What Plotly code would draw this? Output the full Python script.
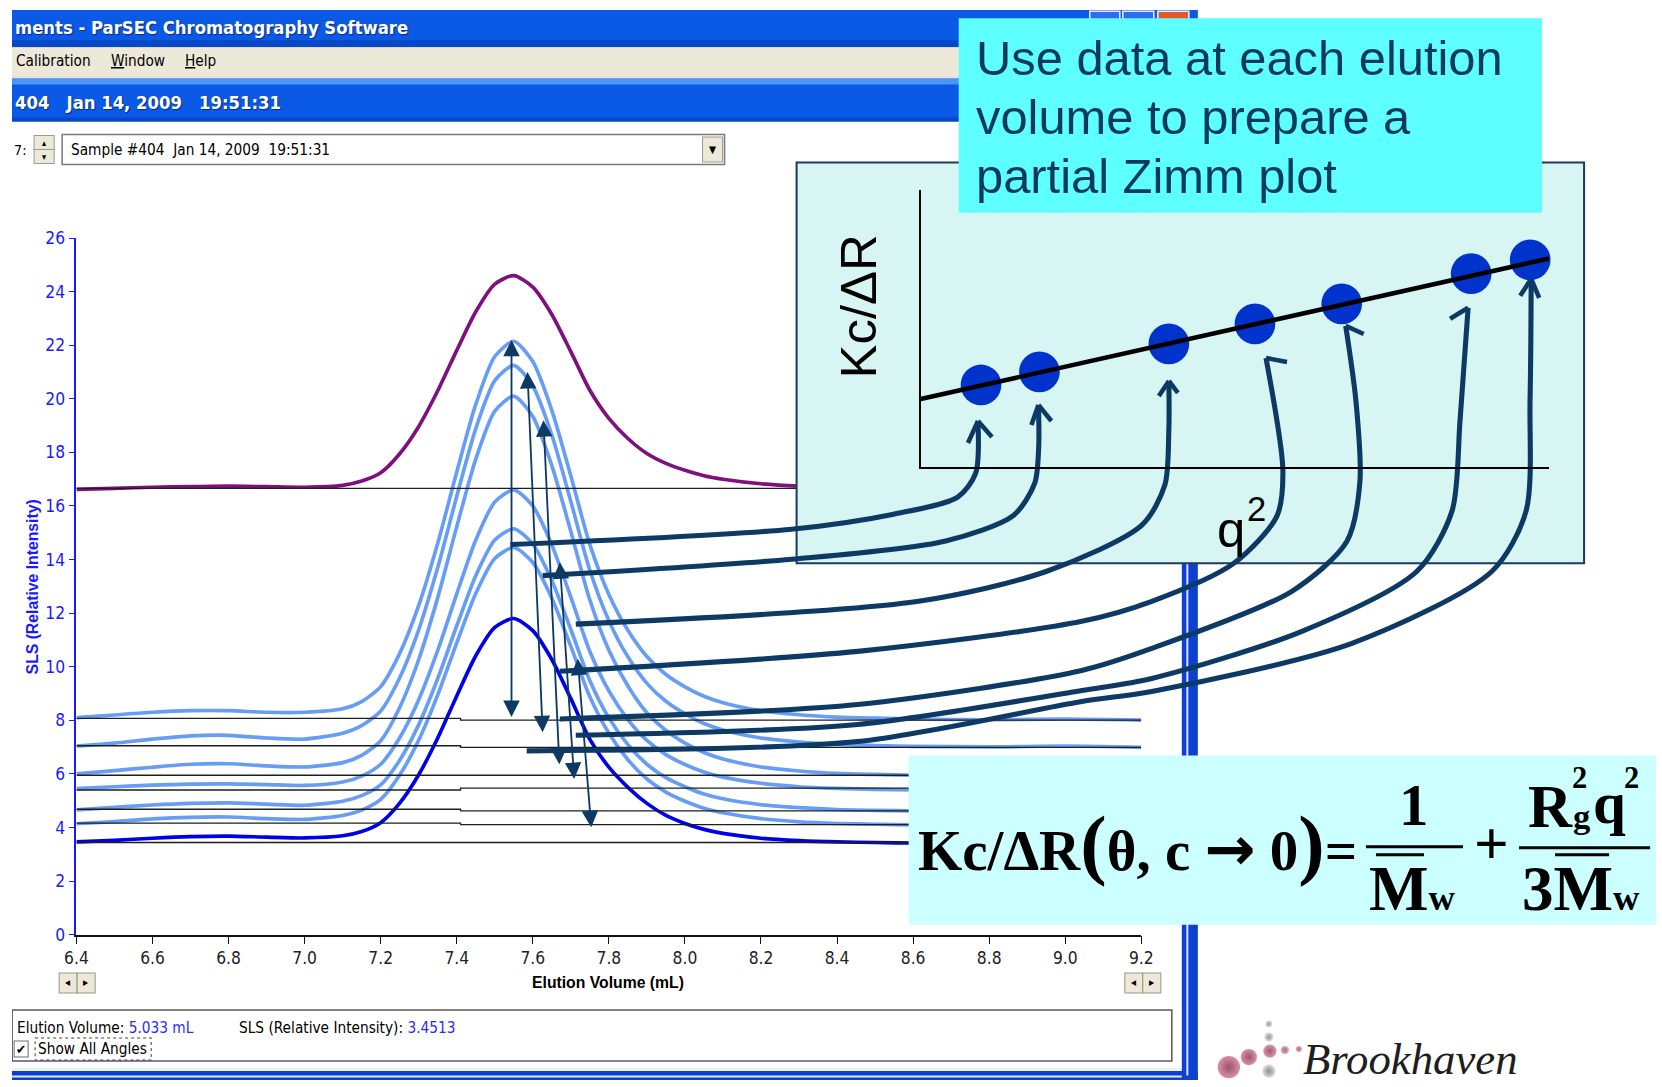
import plotly.graph_objects as go

# Layout is written in target-pixel coordinates (1662 x 1087) and mapped onto the
# figure through a small affine correction so that the page body margin and the
# viewport scaling line the figure up with the window.
TW, TH = 1662, 1087
SX, SY = 0.985, 0.980
OX, OY = 10.9, 9.7
WF, HF = 1668, 1090
Z = 1 / 0.983                       # size factor for fonts, widths and markers

SANS = "Liberation Sans, Arial, sans-serif"
NARROW = "Liberation Sans Narrow, DejaVu Sans Condensed, Arial Narrow, sans-serif"
COND = "DejaVu Sans Condensed, DejaVu Sans, sans-serif"
SERIF = "Liberation Serif, Times New Roman, serif"

# ---------------- SLS chromatogram, one trace per detector angle ----------------
elution_ml = [6.4, 6.5, 6.6, 6.7, 6.8, 6.9, 7.0, 7.1, 7.15, 7.2, 7.25, 7.3, 7.35,
              7.4, 7.45, 7.5, 7.55, 7.6, 7.65, 7.7, 7.75, 7.8, 7.85, 7.9, 7.95,
              8.0, 8.05, 8.1, 8.2, 8.3, 8.4, 8.5, 8.6, 8.8, 9.0, 9.2]

sls_purple = [16.62, 16.66, 16.70, 16.72, 16.74, 16.72, 16.70,
              16.77, 16.93, 17.24, 17.95, 18.97, 20.30, 21.81, 23.25, 24.28, 24.60,
              24.17, 23.15, 21.76, 20.32, 19.27, 18.52, 17.96, 17.59, 17.33, 17.13,
              17.00, 16.83, 16.74, 16.70, 16.68, 16.66, 16.66, 16.66, 16.66]
sls_angle1 = [8.10, 8.20, 8.30, 8.36, 8.36, 8.30, 8.30,
              8.43, 8.70, 9.26, 10.50, 12.29, 14.61, 17.27, 19.79, 21.58, 22.15,
              21.39, 19.57, 17.12, 14.56, 12.70, 11.36, 10.38, 9.71, 9.25, 8.90,
              8.66, 8.36, 8.21, 8.12, 8.08, 8.05, 8.02, 8.05, 8.01]
sls_angle2 = [7.04, 7.15, 7.30, 7.42, 7.44, 7.34, 7.30,
              7.52, 7.80, 8.35, 9.59, 11.38, 13.70, 16.36, 18.89, 20.68, 21.25,
              20.48, 18.65, 16.17, 13.60, 11.72, 10.37, 9.38, 8.71, 8.24, 7.88,
              7.64, 7.34, 7.19, 7.10, 7.06, 7.03, 7.01, 7.04, 6.99]
sls_angle3 = [6.00, 6.12, 6.25, 6.36, 6.38, 6.30, 6.26,
              6.42, 6.69, 7.24, 8.48, 10.27, 12.58, 15.23, 17.75, 19.54, 20.10,
              19.34, 17.51, 15.05, 12.49, 10.62, 9.28, 8.28, 7.62, 7.15, 6.80,
              6.56, 6.26, 6.11, 6.02, 5.98, 5.95, 5.95, 5.95, 5.95]
sls_angle4 = [5.45, 5.52, 5.58, 5.62, 5.63, 5.60, 5.57,
              5.70, 5.92, 6.36, 7.35, 8.77, 10.61, 12.72, 14.73, 16.15, 16.60,
              16.00, 14.55, 12.60, 10.57, 9.10, 8.03, 7.25, 6.72, 6.35, 6.07,
              5.88, 5.65, 5.52, 5.46, 5.42, 5.40, 5.40, 5.40, 5.40]
sls_angle5 = [4.66, 4.75, 4.84, 4.90, 4.92, 4.87, 4.83,
              4.98, 5.19, 5.59, 6.51, 7.84, 9.56, 11.53, 13.40, 14.73, 15.15,
              14.58, 13.22, 11.39, 9.48, 8.09, 7.09, 6.36, 5.86, 5.52, 5.25,
              5.07, 4.85, 4.74, 4.67, 4.64, 4.62, 4.62, 4.62, 4.62]
sls_angle6 = [4.14, 4.22, 4.32, 4.38, 4.39, 4.33, 4.30,
              4.45, 4.65, 5.05, 5.96, 7.26, 8.95, 10.89, 12.73, 14.04, 14.45,
              13.89, 12.56, 10.76, 8.88, 7.52, 6.53, 5.81, 5.32, 4.98, 4.72,
              4.55, 4.33, 4.21, 4.15, 4.12, 4.10, 4.10, 4.10, 4.10]
sls_dark = [3.46, 3.52, 3.60, 3.66, 3.68, 3.64, 3.61,
            3.69, 3.85, 4.18, 4.91, 5.97, 7.34, 8.91, 10.41, 11.47, 11.80,
            11.35, 10.27, 8.81, 7.29, 6.25, 5.50, 4.90, 4.45, 4.15, 3.93,
            3.78, 3.60, 3.51, 3.46, 3.44, 3.42, 3.42, 3.42, 3.42]

# detector baselines (left / right of the baseline break)
baseline_left = [16.66, 8.07, 7.05, 5.95, 5.40, 4.68, 4.16, 3.44]
baseline_right = [16.66, 8.01, 6.99, 5.95, 5.47, 4.62, 4.11, 3.44]
baseline_break_ml = 7.41

x_ticks = [6.4, 6.6, 6.8, 7.0, 7.2, 7.4, 7.6, 7.8, 8.0, 8.2, 8.4, 8.6, 8.8, 9.0, 9.2]
x_tick_text = ["6.4", "6.6", "6.8", "7.0", "7.2", "7.4", "7.6", "7.8", "8.0",
               "8.2", "8.4", "8.6", "8.8", "9.0", "9.2"]
y_ticks = [0, 2, 4, 6, 8, 10, 12, 14, 16, 18, 20, 22, 24, 26]

# peak-to-baseline markers (double-headed)
arrow_ev_top = [7.544, 7.586, 7.628, 7.671, 7.718]
arrow_sls_top = [22.2, 21.0, 19.2, 13.9, 10.3]
arrow_ev_bot = [7.544, 7.626, 7.670, 7.709, 7.754]
arrow_sls_bot = [8.07, 7.5, 6.3, 5.75, 3.95]

# points picked off the chromatogram and carried to the Zimm plot
conn_ev = [7.541, 7.626, 7.713, 7.671, 7.671, 7.713, 7.584]
conn_sls = [14.56, 13.40, 11.59, 9.83, 8.05, 7.44, 6.86]

# ---------------- partial Zimm plot ----------------
zimm_q2 = [0.096, 0.189, 0.395, 0.532, 0.670, 0.876, 0.970]
zimm_kc = [0.296, 0.343, 0.444, 0.516, 0.588, 0.697, 0.747]
fit_q2 = [0.0, 1.0]
fit_kc = [0.245, 0.752]

# ---------------- geometry (target pixels) ----------------
PL, PR, PB, PT = 75.3, 1139.5, 932.8, 237.4        # chromatogram plot box
ZL, ZR, ZB, ZT = 919.0, 1547.0, 466.0, 189.0       # Zimm plot box


def fx(p):
    return (p - OX) / SX


def fy(p):
    return (p - OY) / SY


def xdom(a, b):
    return [fx(a) / WF, fx(b) / WF]


def ydom(bottom, top):
    return [1 - fy(bottom) / HF, 1 - fy(top) / HF]


def px(ev):
    return PL + (ev - 6.4) / (9.2 - 6.4) * (PR - PL)


def py(v):
    return PB - v / 26.0 * (PB - PT)


def zx(q):
    return ZL + q * (ZR - ZL)


def zy(k):
    return ZB - k * (ZB - ZT)


NAVY = "#0D3A64"
LIGHT = "#679DF4"

fig = go.Figure()

# chromatogram curves
for vals in [sls_angle1, sls_angle2, sls_angle3, sls_angle4, sls_angle5, sls_angle6]:
    fig.add_trace(go.Scatter(x=elution_ml, y=vals, mode="lines",
                             line=dict(color=LIGHT, width=3.6 * Z, shape="spline", smoothing=0.7),
                             hoverinfo="skip", showlegend=False))
fig.add_trace(go.Scatter(x=elution_ml, y=sls_dark, mode="lines",
                         line=dict(color="#0000E6", width=3.6 * Z, shape="spline", smoothing=0.7),
                         hoverinfo="skip", showlegend=False))
fig.add_trace(go.Scatter(x=elution_ml, y=sls_purple, mode="lines",
                         line=dict(color="#80107E", width=3.6 * Z, shape="spline", smoothing=0.7),
                         hoverinfo="skip", showlegend=False))
for bl, br in zip(baseline_left, baseline_right):
    fig.add_trace(go.Scatter(x=[6.4, baseline_break_ml, baseline_break_ml, 9.2],
                             y=[bl, bl, br, br], mode="lines",
                             line=dict(color="#1E1E1E", width=1.3 * Z),
                             hoverinfo="skip", showlegend=False))

# ---------------- connectors from the chromatogram to the Zimm points ----------------
routes = [
    [(790, 528), (892, 513), (956, 496), (974, 472)],
    [(790, 558), (943, 540), (1012, 514), (1033, 482), (1037, 445)],
    [(917, 600), (1045, 570), (1140, 524), (1163, 484), (1167, 430)],
    [(856, 650), (1080, 620), (1150, 600), (1232, 562), (1275, 515), (1281, 470)],
    [(856, 703), (1080, 669), (1150, 647), (1290, 590), (1345, 540), (1358, 480), (1354, 400)],
    [(856, 723), (1080, 689), (1150, 677), (1300, 630), (1415, 570), (1450, 510), (1458, 420)],
    [(856, 740), (1080, 700), (1150, 690), (1350, 642), (1490, 570), (1524, 510), (1528, 400)],
]
tip_dx = [-3, -1, 0, 11, 4, -3, 1]
tip_dy = [36, 33, 37, 34, 22, 34, 19]
head_arms = [
    [(-10, 22), (14, 16)],
    [(-7, 20), (13, 16)],
    [(-10, 15), (9, 12)],
    [(21, 4)],
    [(18, 8)],
    [(-18, 11)],
    [(-11, 17), (8, 19)],
]
for i in range(len(conn_ev)):
    tx = zx(zimm_q2[i]) + tip_dx[i]
    ty = zy(zimm_kc[i]) + tip_dy[i]
    pts = [(px(conn_ev[i]), py(conn_sls[i]))] + routes[i] + [(tx, ty)]
    fig.add_trace(go.Scatter(x=[p[0] for p in pts], y=[p[1] for p in pts], mode="lines",
                             line=dict(color=NAVY, width=5 * Z, shape="spline", smoothing=0.8),
                             xaxis="x2", yaxis="y2", hoverinfo="skip", showlegend=False))
    for ax_, ay_ in head_arms[i]:
        fig.add_trace(go.Scatter(x=[tx + ax_, tx], y=[ty + ay_, ty], mode="lines",
                                 line=dict(color=NAVY, width=4.5 * Z),
                                 xaxis="x2", yaxis="y2", hoverinfo="skip", showlegend=False))

# Brookhaven logo spheres (highlight fading to the rim colour)
logo_x = [1227, 1247, 1268, 1283, 1297, 1267, 1267, 1267]
logo_y = [1065, 1055, 1049, 1048, 1047, 1069, 1035, 1022]
logo_s = [22, 16, 13, 8, 6, 13, 9, 7]
logo_rim = ["#6A0C2A", "#700E2E", "#7A1536", "#862545", "#862545", "#5E5E5E", "#666666", "#707070"]
logo_core = ["#C9607F", "#C9607F", "#CC6A88", "#D88AA2", "#D88AA2", "#CFCFCF", "#D2D2D2", "#D8D8D8"]
fig.add_trace(go.Scatter(x=logo_x, y=logo_y, mode="markers",
                         marker=dict(size=[s * Z for s in logo_s], color=logo_core,
                                     gradient=dict(type="radial", color=logo_rim),
                                     line=dict(width=0)),
                         xaxis="x2", yaxis="y2", hoverinfo="skip", showlegend=False))

# Zimm plot points and fitted line
fig.add_trace(go.Scatter(x=zimm_q2, y=zimm_kc, mode="markers",
                         marker=dict(size=40 * Z, color="#0033CC", line=dict(width=0)),
                         xaxis="x3", yaxis="y3", cliponaxis=False,
                         hoverinfo="skip", showlegend=False))
fig.add_trace(go.Scatter(x=fit_q2, y=fit_kc, mode="lines",
                         line=dict(color="black", width=4.5 * Z),
                         xaxis="x3", yaxis="y3", cliponaxis=False,
                         hoverinfo="skip", showlegend=False))

# ---------------- shapes: window chrome, panels ----------------
shapes = []


def rect(x0, y0, x1, y1, fill, line_color=None, lw=0, layer="below", dash=None):
    shapes.append(dict(type="rect", xref="x2", yref="y2", x0=x0, y0=y0, x1=x1, y1=y1,
                       fillcolor=fill, layer=layer,
                       line=dict(color=line_color or "rgba(0,0,0,0)", width=lw * Z,
                                 dash=dash or "solid")))


def seg(x0, y0, x1, y1, color, lw, layer="above"):
    shapes.append(dict(type="line", xref="x2", yref="y2", x0=x0, y0=y0, x1=x1, y1=y1,
                       layer=layer, line=dict(color=color, width=lw * Z)))


# title bar
rect(0, 0, 1196, 47, "#0A5AE6")
rect(0, 0, 1196, 4, "#4A93FA")
rect(0, 4, 1196, 9, "#2473F2")
rect(0, 40, 1196, 47, "#0748C8")
for bx0, bx1, col in [(1088, 1118, "#2E6CF2"), (1121, 1152, "#2E6CF2"), (1156, 1187, "#E0582C")]:
    rect(bx0, 11, bx1, 40, col, "#E8EEFF", 1.5)
# menu bar
rect(0, 47, 1196, 76, "#ECE9D8")
seg(0, 76.5, 1196, 76.5, "#CFCBBE", 1, layer="below")
# sample header bar
rect(0, 78, 1196, 121, "#0A5AE6")
rect(0, 78, 1196, 84, "#4F95F8")
rect(0, 117, 1196, 121, "#0747C7")
# sample selector row
rect(33, 135, 53, 149, "#ECE9D8", "#9C9A94", 1)
rect(33, 149, 53, 163, "#ECE9D8", "#9C9A94", 1)
rect(61, 134, 723, 164, "white", "#7A7A7A", 1.5)
rect(701, 136.5, 721, 161.5, "#ECE9D8", "#9C9A94", 1)
# axis scroll buttons
for bx in (58, 76, 1123, 1141):
    rect(bx, 971, bx + 18, 991, "#ECE9D8", "#9A978E", 1)
# status panel
rect(11, 1008, 1170, 1059, "rgba(0,0,0,0)", "#5A5A5A", 1.5)
rect(13, 1039, 27, 1055, "white", "#6E6E6E", 1)
rect(34, 1036, 150, 1058, "rgba(0,0,0,0)", "#444444", 1, dash="dot")
# window frame (right edge and bottom)
rect(0, 1066, 1196, 1069, "#F0F0F0")
rect(0, 1069, 1196, 1090, "#0D3FD3")
rect(0, 1073.5, 1196, 1075.5, "#DDE6FF")
rect(1180, 121, 1196, 1090, "#0D3FD3")
rect(1184.5, 121, 1186.5, 1073.5, "#DDE6FF")
# Zimm plot panel
rect(795, 162, 1582, 562, "#D6F5F3", "#1F3A5F", 2)
# caption box
rect(957, 18, 1540, 212, "#5EFFFF", layer="above")
# equation box and fraction bars
rect(907, 754, 1662, 923, "#CCFFFF", layer="above")
seg(1364, 845, 1461, 845, "black", 3)
seg(1374, 853, 1422, 853, "black", 3)
seg(1517, 846, 1648, 846, "black", 3)
seg(1553, 853, 1607, 853, "black", 3)

# ---------------- text ----------------
annotations = []


def label(x, y, text, size, color="black", family=SANS, xanchor="left",
          yanchor="middle", weight="normal", style="normal", angle=0, shadow=None):
    font = dict(size=size * Z, color=color, family=family, weight=weight, style=style)
    if shadow:
        font["shadow"] = shadow
    annotations.append(dict(x=x, y=y, xref="x2", yref="y2", text=text, showarrow=False,
                            font=font, xanchor=xanchor, yanchor=yanchor,
                            textangle=angle, borderpad=0))


def on_base(x, baseline, text, size, **kw):
    label(x, baseline - 0.34 * size, text, size, **kw)


def span(text, size, family=None):
    style = f"font-size:{size * Z:.1f}px"
    if family:
        style += f";font-family:{family}"
    return f'<span style="{style}">{text}</span>'


NB = "\u00a0"
label(12.5, 27, "ments - ParSEC Chromatography Software", 18, color="white", family=COND,
      weight="bold", shadow="1px 1px 1px #0B2A80")
label(14, 61, "Calibration", 15, family=COND)
label(109, 61, "<u>W</u>indow", 15, family=COND)
label(183, 61, "<u>H</u>elp", 15, family=COND)
label(12.5, 102, f"404{NB}{NB} Jan 14, 2009{NB}{NB} 19:51:31", 18, color="white",
      family=COND, weight="bold", shadow="1px 1px 1px #0B2A80")
label(12, 149, "7:", 14, family=COND)
label(43, 142, "▴", 9, xanchor="center", family=COND)
label(43, 156, "▾", 9, xanchor="center", family=COND)
label(69, 149, f"Sample #404{NB} Jan 14, 2009{NB} 19:51:31", 15, family=COND)
label(711, 149, "▼", 10, xanchor="center", family=COND)
for bx, g in [(67, "◂"), (85, "▸"), (1132, "◂"), (1150, "▸")]:
    label(bx, 981, g, 11, xanchor="center", family=COND)

# axis titles
label(607, 981, "Elution Volume (mL)", 15.5, weight="bold", xanchor="center")
label(31, 586, "SLS (Relative Intensity)", 15.5, color="#1A1AFF", weight="bold",
      xanchor="center", angle=-90)

# status panel text
label(15, 1026, "Elution Volume: <span style='color:#2A2AFF'>5.033 mL</span>", 15, family=COND)
label(237, 1026, "SLS (Relative Intensity): <span style='color:#2A2AFF'>3.4513</span>", 15,
      family=COND)
label(20, 1047, "✔", 13, xanchor="center", family=COND)
label(36, 1047, "Show All Angles", 15, family=COND)

# caption
CAP = "#0B3A5C"
label(973, 58, "Use data at each elution", 48, color=CAP)
label(973, 117, "volume to prepare a", 48, color=CAP)
label(973, 175, "partial Zimm plot", 48, color=CAP)

# Zimm plot axis labels
label(857, 306, "Kc/ΔR", 50, xanchor="center", angle=-90)
on_base(1214, 545, "q", 50)
on_base(1244, 519, "2", 34)

# equation
on_base(915, 860,
        "Kc/ΔR" + span("(", 78) + "θ, c" + NB + span("\u2192", 60, "'DejaVu Sans'") + NB + "0"
        + span(")", 78) + "=",
        56, family=SERIF, weight="bold")
on_base(1412, 823, "1", 58, family=SERIF, weight="bold", xanchor="center")
on_base(1366, 908, "M" + span("w", 36), 62, family=SERIF, weight="bold")
on_base(1489, 862, "+", 60, family=SERIF, weight="bold", xanchor="center")
on_base(1525, 825, "R", 60, family=SERIF, weight="bold")
on_base(1569, 787, "2", 30, family=SERIF, weight="bold")
on_base(1570, 826, "g", 34, family=SERIF, weight="bold")
on_base(1590, 821, "q", 58, family=SERIF, weight="bold")
on_base(1621, 787, "2", 30, family=SERIF, weight="bold")
on_base(1519, 908, "3M" + span("w", 36), 62, family=SERIF, weight="bold")

# logo wordmark
on_base(1300, 1072, "Brookhaven", 44, color="#1E1E1E", family=SERIF, style="italic")

# peak-to-baseline arrows on the chromatogram
for xt, yt, xb, yb in zip(arrow_ev_top, arrow_sls_top, arrow_ev_bot, arrow_sls_bot):
    annotations.append(dict(x=xt, y=yt, ax=xb, ay=yb, xref="x", yref="y", axref="x", ayref="y",
                            text="", showarrow=True, arrowside="end+start",
                            arrowhead=2, startarrowhead=2, arrowsize=1.8, startarrowsize=1.8,
                            arrowwidth=1.8 * Z, arrowcolor=NAVY, standoff=0, startstandoff=0))

fig.update_layout(
    width=WF, height=HF, autosize=False,
    margin=dict(l=0, r=0, t=0, b=0, pad=0),
    paper_bgcolor="white", plot_bgcolor="rgba(0,0,0,0)",
    hovermode=False, showlegend=False,
    xaxis=dict(domain=xdom(PL, PR), range=[6.4, 9.2], tickvals=x_ticks, ticktext=x_tick_text,
               showline=True, linecolor="#111111", linewidth=1.5 * Z, ticks="outside",
               ticklen=7 * Z, tickcolor="#111111", tickwidth=1.2 * Z, showgrid=False,
               zeroline=False, tickfont=dict(family=NARROW, size=17 * Z, color="#222222"),
               anchor="y", fixedrange=True),
    yaxis=dict(domain=ydom(PB, PT), range=[0, 26], tickvals=y_ticks,
               showline=True, linecolor="#1A1AFF", linewidth=1.5 * Z, ticks="outside",
               ticklen=6 * Z, tickcolor="#1A1AFF", tickwidth=1.2 * Z, showgrid=False,
               zeroline=False, tickfont=dict(family=NARROW, size=17 * Z, color="#1A1AFF"),
               anchor="x", fixedrange=True),
    # target-pixel overlay used for the window chrome, panels and connectors
    xaxis2=dict(domain=[0, 1], range=[OX, OX + SX * WF], visible=False, anchor="y2",
                fixedrange=True),
    yaxis2=dict(domain=[0, 1], range=[OY + SY * HF, OY], visible=False, anchor="x2",
                fixedrange=True),
    xaxis3=dict(domain=xdom(ZL, ZR), range=[0, 1], showline=True, linecolor="black",
                linewidth=2 * Z, showgrid=False, zeroline=False, showticklabels=False, ticks="",
                anchor="y3", fixedrange=True),
    yaxis3=dict(domain=ydom(ZB, ZT), range=[0, 1], showline=True, linecolor="black",
                linewidth=2 * Z, showgrid=False, zeroline=False, showticklabels=False, ticks="",
                anchor="x3", fixedrange=True),
    shapes=shapes,
    annotations=annotations,
)

fig.write_html("out.html")
